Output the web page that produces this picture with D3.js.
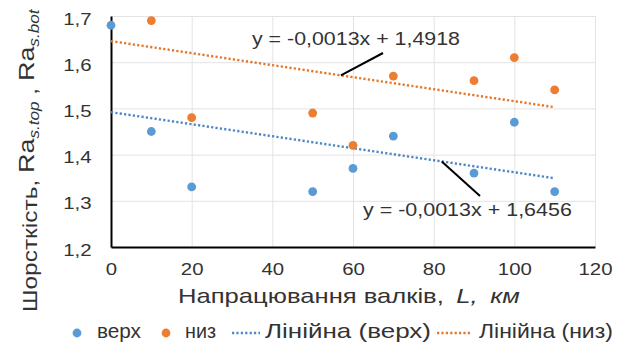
<!DOCTYPE html>
<html><head><meta charset="utf-8">
<script src="https://cdn.jsdelivr.net/npm/d3@7"></script>
<style>
body{margin:0;background:#fff}
svg{display:block}
text{font-family:"Liberation Sans",Arial,sans-serif;fill:#333}
</style>
</head><body><svg id="c" width="623" height="345"></svg>
<script>
// ---- data ----
const topX = [0, 10, 20, 50, 60, 70, 90, 100, 110];
const topY = [1.68, 1.45, 1.33, 1.32, 1.37, 1.44, 1.36, 1.47, 1.32];
const botX = [10, 20, 50, 60, 70, 90, 100, 110];
const botY = [1.69, 1.48, 1.49, 1.42, 1.57, 1.56, 1.61, 1.54];
const trendSlope = [-0.0013, -0.0013];       // верх, низ
const trendIntercept = [1.4918, 1.6456];     // верх, низ
const trendRange = [0, 110];
const xTicks = [0, 20, 40, 60, 80, 100, 120];
const yTicks = [1.2, 1.3, 1.4, 1.5, 1.6, 1.7];
const seriesNames = ["верх", "низ"];
const trendNames = ["Лінійна (верх)", "Лінійна (низ)"];
const eqLabels = ["y = -0,0013x + 1,4918", "y = -0,0013x + 1,6456"];

// ---- layout ----
const colors = ["#5b9bd5", "#ed7d31"];
const trendColors = ["#4f86c6", "#e5772c"];
const svg = d3.select("#c");
const x = d3.scaleLinear().domain([0, 120]).range([111, 595]);
const y = d3.scaleLinear().domain([1.2, 1.7]).range([247, 16]);
const comma = v => d3.format(".1f")(v).replace(".", ",");

function fit(sel, x0, x1) {
  const b = sel.node().getBBox();
  const k = (x1 - x0) / b.width;
  sel.attr("transform", `translate(${x0},0) scale(${k},1) translate(${-b.x},0)`);
}

// grid
const grid = svg.append("g").attr("stroke", "#e3e3e3").attr("stroke-width", 1);
grid.selectAll(".gx").data(xTicks.slice(1)).join("line")
  .attr("x1", d => x(d) + 0.5).attr("x2", d => x(d) + 0.5)
  .attr("y1", y(1.7)).attr("y2", y(1.2));
grid.selectAll(".gy").data(yTicks.slice(1)).join("line")
  .attr("x1", x(0)).attr("x2", x(120))
  .attr("y1", d => y(d) + 0.5).attr("y2", d => y(d) + 0.5);

// axes
const ax = svg.append("g").attr("transform", `translate(0,${y(1.2)})`)
  .call(d3.axisBottom(x).tickValues(xTicks).tickSize(0).tickSizeOuter(0).tickFormat(d3.format("d")));
ax.select(".domain").attr("stroke", "#000").attr("stroke-width", 2);
ax.selectAll("text").attr("y", 0).attr("dy", null)
  .attr("transform", "translate(0,27.5) scale(1.2,1)")
  .style("font-size", "17px").style("fill", "#333")
  .style("font-family", '"Liberation Sans",Arial,sans-serif');

const ay = svg.append("g").attr("transform", `translate(${x(0)},0)`)
  .call(d3.axisLeft(y).tickValues(yTicks).tickSize(0).tickSizeOuter(0).tickFormat(comma));
ay.select(".domain").attr("stroke", "#000").attr("stroke-width", 2);
ay.selectAll("text").attr("x", 0).attr("dy", null)
  .attr("transform", "translate(-19.5,8) scale(1.2,1)")
  .style("font-size", "17px").style("fill", "#333")
  .style("font-family", '"Liberation Sans",Arial,sans-serif');

// trendlines
const trends = [0, 1].map(i => trendRange.map(v => [v, trendSlope[i] * v + trendIntercept[i]]));
const line = d3.line().x(d => x(d[0])).y(d => y(d[1]));
svg.selectAll(".trend").data(trends).join("path")
  .attr("d", line).attr("fill", "none")
  .attr("stroke", (d, i) => trendColors[i])
  .attr("stroke-width", 2.4).attr("stroke-dasharray", "2.2,2.2");

// points
const pts = [topX.map((v, i) => [v, topY[i]]), botX.map((v, i) => [v, botY[i]])];
pts.forEach((arr, s) => {
  svg.append("g").selectAll("circle").data(arr).join("circle")
    .attr("cx", d => x(d[0])).attr("cy", d => y(d[1])).attr("r", 4.4)
    .attr("fill", colors[s]);
});

// equation labels with leader lines
const eqTop = svg.append("text").attr("y", 45).style("font-size", "18.5px").text(eqLabels[0]);
fit(eqTop, 252, 460);
const eqBot = svg.append("text").attr("y", 216.5).style("font-size", "18.5px").text(eqLabels[1]);
fit(eqBot, 363, 572);
const lead1 = 57, lead2 = 82;
svg.append("line").attr("x1", x(lead1)).attr("y1", y(trendSlope[1] * lead1 + trendIntercept[1]))
  .attr("x2", 383).attr("y2", 53).attr("stroke", "#000").attr("stroke-width", 2);
svg.append("line").attr("x1", x(lead2)).attr("y1", y(trendSlope[0] * lead2 + trendIntercept[0]))
  .attr("x2", 480).attr("y2", 196).attr("stroke", "#000").attr("stroke-width", 2);

// x title
const xt = svg.append("text").attr("y", 303).style("font-size", "20.5px");
xt.append("tspan").text("Напрацювання валків,");
xt.append("tspan").attr("dx", 10).style("font-style", "italic").text("L,");
xt.append("tspan").attr("dx", 10).style("font-style", "italic").text("км");
fit(xt, 178, 520);

// y title
const yg = svg.append("g").attr("transform", "translate(37,0) rotate(-90)");
const yt = yg.append("text").attr("y", 0).style("font-size", "20px");
yt.append("tspan").text("Шорсткість, ");
yt.append("tspan").attr("dy", -3.5).style("font-size", "22px").text("Ra");
yt.append("tspan").attr("dy", 5.5).style("font-size", "14px").style("font-style", "italic").text("s.top");
yt.append("tspan").attr("dy", -2).text(" , ");
yt.append("tspan").attr("dy", -3.5).style("font-size", "22px").text("Ra");
yt.append("tspan").attr("dy", 5.5).style("font-size", "14px").style("font-style", "italic").text("s.bot");
fit(yt, -312, -8);

// legend
const ly = 333;
const lfs = "20px";
const leg = svg.append("g");
leg.append("circle").attr("cx", 77).attr("cy", ly).attr("r", 4.4).attr("fill", colors[0]);
fit(leg.append("text").attr("y", ly + 5).style("font-size", lfs).text(seriesNames[0]), 97, 141);
leg.append("circle").attr("cx", 166).attr("cy", ly).attr("r", 4.4).attr("fill", colors[1]);
fit(leg.append("text").attr("y", ly + 5).style("font-size", lfs).text(seriesNames[1]), 185, 216);
leg.append("line").attr("x1", 232).attr("x2", 260).attr("y1", ly).attr("y2", ly)
  .attr("stroke", trendColors[0]).attr("stroke-width", 2.4).attr("stroke-dasharray", "2.2,2.2");
fit(leg.append("text").attr("y", ly + 5).style("font-size", lfs).text(trendNames[0]), 265, 431);
leg.append("line").attr("x1", 437).attr("x2", 472).attr("y1", ly).attr("y2", ly)
  .attr("stroke", trendColors[1]).attr("stroke-width", 2.4).attr("stroke-dasharray", "2.2,2.2");
fit(leg.append("text").attr("y", ly + 5).style("font-size", lfs).text(trendNames[1]), 479, 613);
</script>
</body></html>
